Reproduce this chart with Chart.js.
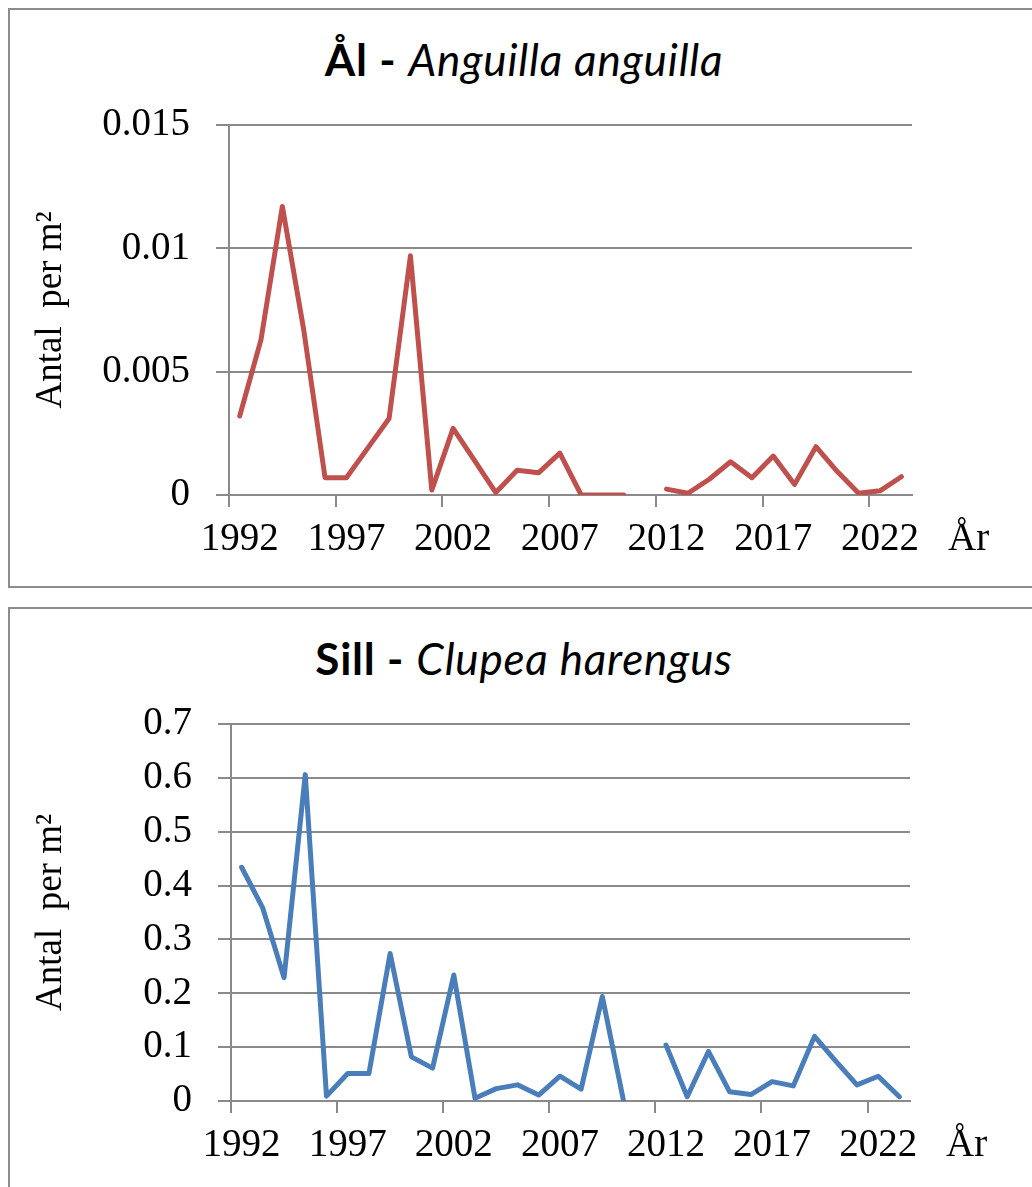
<!DOCTYPE html>
<html>
<head>
<meta charset="utf-8">
<script src="https://cdn.jsdelivr.net/npm/chart.js@4/dist/chart.umd.min.js"></script>
<style>
  body { margin: 0; width: 1032px; height: 1187px; overflow: hidden; background: #fff; position: relative; }
  .ruta { position: absolute; left: 8px; width: 1040px; border: 2px solid #8c8c8c; box-sizing: border-box; }
  .rubrik { position: absolute; left: 8px; width: 1032px; text-align: center; font-family: Lato, sans-serif; font-size: 44px; line-height: 53px; letter-spacing: 0.8px; color: #000; white-space: nowrap; }
  .rubrik b { font-weight: bold; }
  .rubrik i { font-style: italic; }
  .hallare { position: absolute; left: 0; width: 1032px; }
</style>
</head>
<body>
<div class="ruta" style="top:8px; height:580px;"></div>
<div class="ruta" style="top:607px; height:600px;"></div>

<div class="rubrik" style="top:33px;"><b>Ål -</b> <i>Anguilla anguilla</i></div>
<div class="rubrik" style="top:632px;"><b>Sill -</b> <i>Clupea harengus</i></div>

<div class="hallare" style="top:0px; height:590px;"><canvas id="alChart" width="1032" height="590"></canvas></div>
<div class="hallare" style="top:600px; height:587px;"><canvas id="sillChart" width="1032" height="587"></canvas></div>

<script>
// år 1992-2023, 2011 saknas i båda serierna
var years = ['1992','1993','1994','1995','1996','1997','1998','1999','2000','2001','2002','2003','2004','2005','2006','2007',
             '2008','2009','2010','2011','2012','2013','2014','2015','2016','2017','2018','2019','2020','2021','2022','2023'];
var xTickLabels = ['1992','1997','2002','2007','2012','2017','2022'];

// Ål - antal per m2
var alValues = [0.0032, 0.0063, 0.0117, 0.0067, 0.0007, 0.0007, 0.0019, 0.0031, 0.0097, 0.0002, 0.0027, 0.0014, 0.0001, 0.001, 0.0009, 0.0017,
                0, 0, 0, null, 0.00024, 0.00007, 0.00064, 0.00135, 0.0007, 0.00158, 0.00043, 0.00196, 0.00095, 0.00007, 0.00017, 0.00074];
var alYTicks = [0, 0.005, 0.01, 0.015];

// Sill - antal per m2
var sillValues = [0.434, 0.358, 0.229, 0.606, 0.009, 0.051, 0.051, 0.274, 0.082, 0.061, 0.234, 0.005, 0.023, 0.030, 0.011, 0.046,
                  0.022, 0.194, 0, null, 0.104, 0.008, 0.092, 0.017, 0.012, 0.036, 0.028, 0.120, 0.074, 0.030, 0.046, 0.008];
var sillYTicks = [0, 0.1, 0.2, 0.3, 0.4, 0.5, 0.6, 0.7];

var gra = '#8a8a8a';
var tickFont = { family: '"Liberation Serif", "Times New Roman", serif', size: 39 };
var xTickPad = 9;

// ritar "År" till höger om x-axelns etiketter
var arPlugin = {
  id: 'arLabel',
  afterDraw: function(chart) {
    var ctx = chart.ctx;
    var area = chart.chartArea;
    ctx.save();
    ctx.font = '39px "Liberation Serif", serif';
    ctx.fillStyle = '#000';
    ctx.textAlign = 'left';
    ctx.textBaseline = 'middle';
    ctx.fillText('År', area.right + 36, area.bottom + 12 + xTickPad + 39 * 1.2 / 2);
    ctx.restore();
  }
};

function makeChart(canvasId, values, color, yTicks, pad, yWidth, xHeight) {
  var ctx = document.getElementById(canvasId).getContext('2d');
  return new Chart(ctx, {
    type: 'line',
    data: {
      labels: years,
      datasets: [{
        data: values,
        borderColor: color,
        borderWidth: 5,
        borderCapStyle: 'round',
        borderJoinStyle: 'round',
        pointRadius: 0,
        spanGaps: false,
        tension: 0
      }]
    },
    plugins: [arPlugin],
    options: {
      responsive: false,
      animation: false,
      devicePixelRatio: 1,
      layout: { padding: pad },
      plugins: { legend: { display: false }, tooltip: { enabled: false } },
      scales: {
        x: {
          type: 'category',
          offset: true,
          afterFit: function(scale) { scale.height = xHeight; },
          grid: {
            offset: true,
            drawOnChartArea: false,
            drawTicks: true,
            tickLength: 12,
            lineWidth: 2,
            color: function(c) {
              if (c.index !== undefined && c.index % 5 === 0 && c.index < years.length) return gra;
              return 'rgba(0,0,0,0)';
            }
          },
          border: { display: true, color: gra, width: 2 },
          ticks: {
            autoSkip: false,
            maxRotation: 0,
            minRotation: 0,
            padding: xTickPad,
            color: '#000',
            font: tickFont,
            callback: function(v, i) {
              var lab = years[i];
              return xTickLabels.indexOf(lab) >= 0 ? lab : '';
            }
          }
        },
        y: {
          min: yTicks[0],
          max: yTicks[yTicks.length - 1],
          afterFit: function(scale) { scale.width = yWidth; },
          afterBuildTicks: function(scale) {
            scale.ticks = yTicks.map(function(t) { return { value: t }; });
          },
          grid: { color: gra, lineWidth: 2, tickLength: 13, drawTicks: true },
          border: { display: true, color: gra, width: 2 },
          ticks: {
            padding: 26,
            color: '#000',
            font: tickFont,
            callback: function(v) { return String(Number(v.toFixed(4))); }
          },
          title: {
            display: true,
            text: 'Antal  per m²',
            color: '#000',
            font: { family: '"Liberation Serif", "Times New Roman", serif', size: 37 },
            padding: { top: 29, bottom: 0 }
          }
        }
      }
    }
  });
}

var alChart = makeChart('alChart', alValues, '#C0504D', alYTicks, { top: 125, right: 120, bottom: 0, left: 0 }, 229, 95);
var sillChart = makeChart('sillChart', sillValues, '#4A7EBB', sillYTicks, { top: 124, right: 122, bottom: 0, left: 0 }, 231, 86);
</script>
</body>
</html>
